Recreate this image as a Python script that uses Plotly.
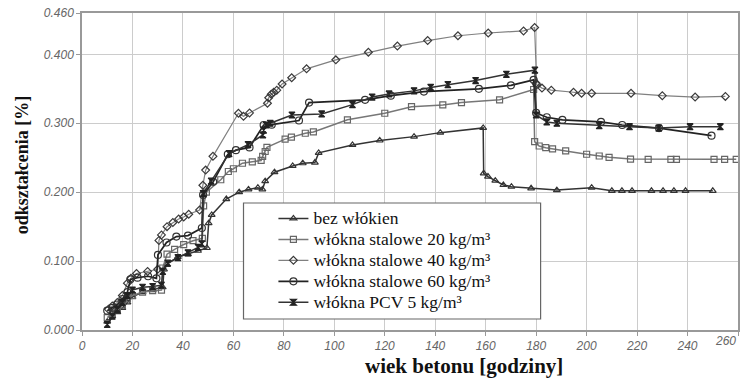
import plotly.graph_objects as go

# ---- data ----
bez_x = [10, 12, 14, 16, 18, 20, 24, 28, 32, 32.5, 33.5, 38, 42, 46, 49.5, 50.2, 51.4, 57.2, 62.3, 66, 69.7, 71.5, 72.6, 76.3, 83.5, 87.5, 92.3, 93.8, 107.2, 118, 131.6, 142, 159, 159.2, 160.9, 163.8, 167, 170.2, 178, 188.2, 202, 210, 214, 218, 225.7, 230.3, 234.6, 239.2, 250]
bez_y = [0.012, 0.02, 0.026, 0.032, 0.04, 0.048, 0.055, 0.058, 0.062, 0.088, 0.095, 0.106, 0.110, 0.115, 0.119, 0.155, 0.167, 0.190, 0.200, 0.204, 0.2065, 0.204, 0.216, 0.229, 0.238, 0.242, 0.243, 0.257, 0.2685, 0.275, 0.2806, 0.2864, 0.2932, 0.2274, 0.2226, 0.2167, 0.2104, 0.208, 0.2056, 0.203, 0.2065, 0.202, 0.202, 0.202, 0.202, 0.202, 0.202, 0.202, 0.202]

s20_x = [10, 12, 14, 16, 18, 20, 24, 28, 31.5, 32, 33.7, 36.7, 40.3, 44, 47.7, 48.2, 49.3, 55, 58, 60, 63.6, 67.5, 71, 71.6, 72.6, 73.3, 80.5, 83, 88.5, 91.7, 105.2, 120, 130.6, 143, 150.4, 165.5, 179, 179.4, 181.2, 183.8, 186.5, 191.7, 200, 205, 208.9, 217.4, 224.4, 233.4, 235.6, 250.5, 254.7, 259.3]
s20_y = [0.018, 0.024, 0.03, 0.036, 0.045, 0.05, 0.055, 0.057, 0.058, 0.09, 0.11, 0.117, 0.124, 0.1296, 0.133, 0.18, 0.200, 0.218, 0.23, 0.234, 0.242, 0.244, 0.246, 0.252, 0.259, 0.265, 0.277, 0.280, 0.2855, 0.2874, 0.305, 0.3145, 0.324, 0.3266, 0.330, 0.334, 0.349, 0.2733, 0.267, 0.2646, 0.2627, 0.2598, 0.255, 0.2525, 0.2506, 0.248, 0.2477, 0.2477, 0.2477, 0.2477, 0.2477, 0.2477]

s40_x = [10.5, 12, 14, 16, 18, 19.4, 21.6, 26, 30, 30.5, 31.5, 33.7, 36, 38.3, 40.3, 42.3, 46.6, 47.9, 49, 51.9, 62, 64, 66.4, 73.5, 74, 75, 76, 77.2, 79.3, 83.1, 89, 100.6, 113.5, 125, 137, 149, 161, 175, 179.4, 180, 180.2, 182.3, 186, 194.8, 198, 202, 217.6, 230, 243, 255]
s40_y = [0.03, 0.035, 0.04, 0.05, 0.068, 0.075, 0.082, 0.085, 0.088, 0.13, 0.138, 0.15, 0.156, 0.161, 0.164, 0.168, 0.174, 0.21, 0.232, 0.252, 0.3145, 0.31, 0.315, 0.329, 0.337, 0.342, 0.345, 0.348, 0.357, 0.366, 0.379, 0.392, 0.403, 0.412, 0.42, 0.427, 0.431, 0.434, 0.439, 0.358, 0.356, 0.351, 0.348, 0.345, 0.3435, 0.3435, 0.3435, 0.34, 0.338, 0.339]

s60_x = [10, 12, 14, 16, 18, 19.2, 22, 26.2, 29.5, 30.1, 33.5, 37.4, 42, 47.5, 48, 52, 57.8, 61, 66.4, 72, 75.2, 86, 90, 112.2, 122.4, 135.5, 157.3, 170, 179, 180, 184.2, 190.4, 205.7, 214.1, 228.7, 249.5]
s60_y = [0.028, 0.032, 0.037, 0.045, 0.055, 0.0735, 0.076, 0.078, 0.075, 0.109, 0.127, 0.1355, 0.137, 0.148, 0.196, 0.215, 0.255, 0.261, 0.265, 0.2975, 0.298, 0.304, 0.330, 0.334, 0.34, 0.346, 0.35, 0.355, 0.363, 0.315, 0.3087, 0.3048, 0.302, 0.2975, 0.293, 0.282]

pcv_x = [10, 12, 14, 16, 18, 20, 24, 28, 31.5, 32, 34, 38, 42, 46, 47.5, 48, 51.2, 58.3, 65.8, 71.7, 72, 73, 74.6, 83.2, 95, 107.2, 115, 121.7, 131.6, 138.2, 145, 156, 168.2, 179.5, 180, 184.2, 188.2, 205, 217, 228.6, 241, 253]
pcv_y = [0.008, 0.02, 0.03, 0.04, 0.05, 0.058, 0.062, 0.063, 0.065, 0.085, 0.097, 0.105, 0.112, 0.12, 0.125, 0.198, 0.216, 0.256, 0.269, 0.283, 0.29, 0.2975, 0.300, 0.312, 0.3135, 0.327, 0.338, 0.3425, 0.347, 0.352, 0.356, 0.362, 0.371, 0.377, 0.312, 0.302, 0.300, 0.2966, 0.295, 0.293, 0.295, 0.295]

names = ["bez włókien",
         "włókna stalowe 20 kg/m³",
         "włókna stalowe 40 kg/m³",
         "włókna stalowe 60 kg/m³",
         "włókna PCV 5 kg/m³"]

x_ticks = list(range(0, 241, 20))
x_last_tick = "260"
y_ticks = [0.0, 0.1, 0.2, 0.3, 0.4, 0.46]

# ---- figure ----
fig = go.Figure()
series = [
    (bez_x, bez_y, names[0], "#333333", 1.5, "triangle-up-open", 6, "#333333"),
    (s20_x, s20_y, names[1], "#777777", 1.5, "square-open", 6, "#666666"),
    (s40_x, s40_y, names[2], "#808080", 1.2, "diamond-open", 6, "#3a3a3a"),
    (s60_x, s60_y, names[3], "#222222", 1.7, "circle-open", 7, "#333333"),
    (pcv_x, pcv_y, names[4], "#333333", 1.5, "hourglass", 6, "#222222"),
]
for xs, ys, nm, lc, lw, sym, ms, mc in series:
    fig.add_trace(go.Scatter(
        x=xs, y=ys, mode="lines+markers",
        name='<span style="font-size:17.5px">' + nm + "</span>",
        line=dict(color=lc, width=lw),
        marker=dict(symbol=sym, size=ms, color=mc, line=dict(color=mc, width=1.2)),
    ))

# legend background box
fig.add_shape(type="rect", xref="paper", yref="paper",
              x0=(244 - 82) / 658, x1=(542 - 82) / 658,
              y0=1 - (319 - 13) / 317, y1=1 - (203 - 13) / 317,
              fillcolor="white", line=dict(color="#666666", width=1.2), layer="above")

axis_font = dict(family="Liberation Sans", size=12, color="#666666", style="italic")
fig.update_layout(
    width=742, height=380,
    margin=dict(l=82, r=2, t=13, b=50),
    paper_bgcolor="white", plot_bgcolor="white",
    showlegend=True,
    legend=dict(x=(274 - 82) / 658, y=1 - (203 - 13) / 317, xanchor="left", yanchor="top",
                bgcolor="rgba(0,0,0,0)", borderwidth=0,
                font=dict(family="Liberation Serif", size=13.8, color="#111111"),
                itemwidth=30, tracegroupgap=0),
    xaxis=dict(range=[0, 260], tickvals=x_ticks + [260], ticktext=[str(v) for v in x_ticks] + [""],
               showgrid=True, gridcolor="#cccccc", gridwidth=1,
               showline=True, linecolor="#999999", linewidth=1.5, mirror=True,
               ticks="outside", ticklen=4, tickcolor="#999999", tickfont=axis_font, zeroline=False),
    yaxis=dict(range=[0, 0.46], tickvals=y_ticks, tickformat=".3f", showgrid=True,
               gridcolor="#cccccc", gridwidth=1,
               showline=True, linecolor="#999999", linewidth=1.5, mirror=True,
               ticks="outside", ticklen=4, tickcolor="#999999", tickfont=axis_font, zeroline=False),
    annotations=[
        dict(text=x_last_tick, xref="paper", yref="paper", x=1.0, y=1 - (341 - 13) / 317,
             xanchor="right", yanchor="middle", showarrow=False, font=axis_font),
        dict(text="<b>wiek betonu [godziny]</b>", xref="paper", yref="paper",
             x=(465 - 82) / 658, y=1 - (366 - 13) / 317, xanchor="center", yanchor="middle",
             showarrow=False, font=dict(family="Liberation Serif", size=21, color="#111111")),
        dict(text="<b>odkształcenia [%]</b>", xref="paper", yref="paper",
             x=(22 - 82) / 658, y=1 - (165 - 13) / 317, xanchor="center", yanchor="middle",
             textangle=-90, showarrow=False,
             font=dict(family="Liberation Serif", size=18, color="#111111")),
    ],
)

fig.write_html("out.html")
